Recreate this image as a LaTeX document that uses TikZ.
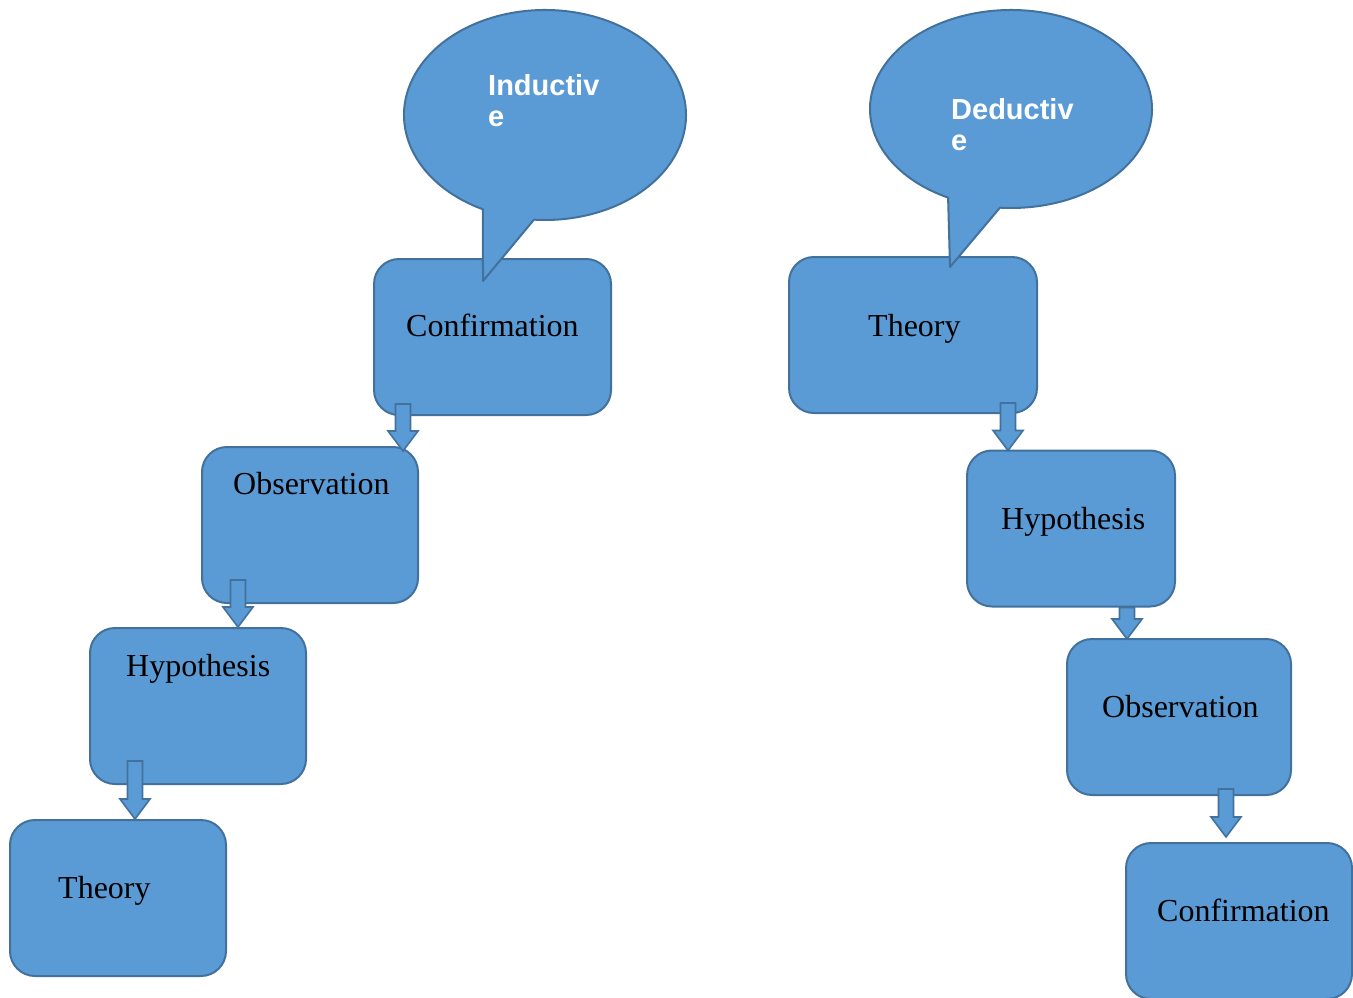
\documentclass[tikz,border=0pt]{standalone}
\usepackage{fontspec}
\setmainfont{Liberation Serif}
\newfontfamily\calloutfont{Liberation Sans}
\usepackage{tikz}
\usetikzlibrary{
  arrows.meta,
  positioning,
  calc
}
\definecolor{boxblue}{RGB}{91,155,213}
\definecolor{edgeblue}{RGB}{65,113,156}

\newcommand{\blockarrow}[2]{%
  \draw[downarrow] let \p1=(#1), \p2=(#2) in
    (\x1-7.5pt,\y1) -- (\x1-7.5pt,\y2+20pt) -- (\x1-15pt,\y2+20pt) -- (\x1,\y2)
    -- (\x1+15pt,\y2+20pt) -- (\x1+7.5pt,\y2+20pt) -- (\x1+7.5pt,\y1) -- cycle;
}

\begin{document}
\begin{tikzpicture}[
  x=1pt, y=-1pt,
  stepbox/.style={rectangle, rounded corners=25pt, draw=edgeblue, fill=boxblue, line width=2pt, minimum height=156pt, inner sep=0pt},
  boxtext/.style={anchor=base west, inner sep=0pt, font=\fontsize{32}{36}\selectfont},
  bubble/.style={draw=edgeblue, fill=boxblue, line width=2pt, line join=round},
  bubbletext/.style={anchor=base west, inner sep=0pt, align=left, text=white, font=\calloutfont\bfseries\fontsize{29}{31}\selectfont},
  downarrow/.style={draw=edgeblue, fill=boxblue, line width=1.6pt, line join=miter}
]
  \useasboundingbox (0,0) rectangle (1353,998);
  \clip (0,0) rectangle (1353,998);

  \node[stepbox, minimum width=237pt] (confI) at (492.5,337) {};
  \node[stepbox, minimum width=216pt] (obsI) at (310,525) {};
  \node[stepbox, minimum width=216pt] (hypI) at (198,706) {};
  \node[stepbox, minimum width=216pt] (theoI) at (118,898) {};

  \node[stepbox, minimum width=248pt] (theoD) at (913,335) {};
  \node[stepbox, minimum width=208pt] (hypD) at (1071,528.5) {};
  \node[stepbox, minimum width=224pt] (obsD) at (1179,717) {};
  \node[stepbox, minimum width=226pt] (confD) at (1239,921) {};

  \node[boxtext] at (406,336) {Confirmation};
  \node[boxtext] at (233,494) {Observation};
  \node[boxtext] at (126,676) {Hypothesis};
  \node[boxtext] at (58,898) {Theory};
  \node[boxtext] at (868,336) {Theory};
  \node[boxtext] at (1001,529) {Hypothesis};
  \node[boxtext] at (1102,717) {Observation};
  \node[boxtext] at (1157,921) {Confirmation};

  \coordinate (a1) at ($(confI.south west)+(30,-12)$);
  \coordinate (b1) at ($(a1 |- obsI.north)+(0,5)$);
  \coordinate (a2) at ($(obsI.south west)+(37,-24)$);
  \coordinate (b2) at (a2 |- hypI.north);
  \coordinate (a3) at ($(hypI.south west)+(46,-24)$);
  \coordinate (b3) at (a3 |- theoI.north);
  \coordinate (a4) at ($(theoD.south west)+(220,-11)$);
  \coordinate (b4) at ($(a4 |- hypD.north)+(0,1)$);
  \coordinate (a5) at ($(hypD.south west)+(161,0)$);
  \coordinate (b5) at ($(a5 |- obsD.north)+(0,1)$);
  \coordinate (a6) at ($(obsD.south west)+(160,-7)$);
  \coordinate (b6) at ($(a6 |- confD.north)+(0,-5)$);

  \blockarrow{a1}{b1}
  \blockarrow{a2}{b2}
  \blockarrow{a3}{b3}
  \blockarrow{a4}{b4}
  \blockarrow{a5}{b5}
  \blockarrow{a6}{b6}

  \coordinate (tipI) at (483,281);
  \coordinate (tipD) at (950,267);
  \draw[bubble] (tipI) -- ($(545,115)+(116.1:141 and 105)$)
    arc[start angle=116.1, end angle=454.5, x radius=141, y radius=105] -- cycle;
  \draw[bubble] (tipD) -- ($(1011,109)+(116.5:141 and 99)$)
    arc[start angle=116.5, end angle=454.5, x radius=141, y radius=99] -- cycle;

  \node[bubbletext] (ind) at (488,126) {Inductiv\\e};
  \node[bubbletext] (ded) at (951,150) {Deductiv\\e};
\end{tikzpicture}
\end{document}
